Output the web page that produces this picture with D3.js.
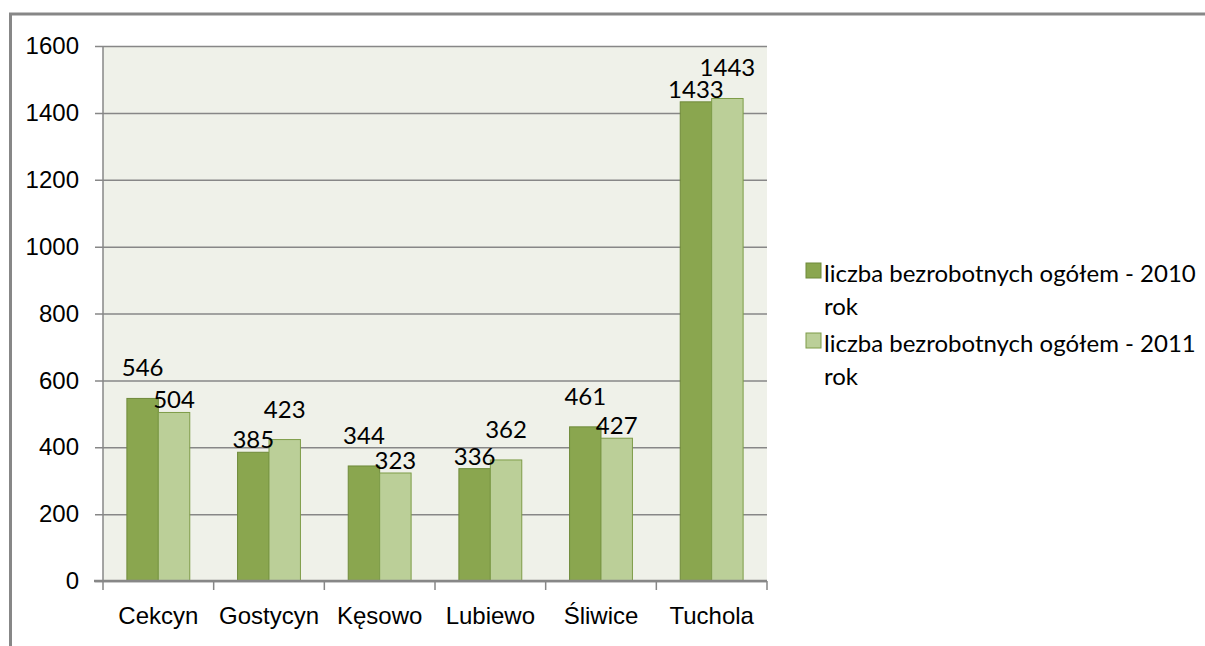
<!DOCTYPE html>
<html lang="pl">
  <head>
    <meta charset="utf-8">
    <title>Bezrobotni 2010-2011</title>
    <style>
body {
  margin: 0;
  background: #fff;
}
svg {
  font-family: Lato, "Liberation Sans", sans-serif;
  font-size: 24px;
}
.grid line {
  stroke: #878787;
  stroke-width: 1.5;
}
.frame {
  fill: none;
  stroke: #878787;
  stroke-width: 3;
}
    </style>
  </head>
  <body>
    <svg></svg>
    <script src="https://cdn.jsdelivr.net/npm/d3@7"></script>
    <script>

    let categories = ["Cekcyn", "Gostycyn", "Kęsowo", "Lubiewo", "Śliwice", "Tuchola"];
    let series = ["liczba bezrobotnych ogółem - 2010 rok", "liczba bezrobotnych ogółem - 2011 rok"];
    let values2010 = [546, 385, 344, 336, 461, 1433];
    let values2011 = [504, 423, 323, 362, 427, 1443];
    let yTicks = [0, 200, 400, 600, 800, 1000, 1200, 1400, 1600];

    let colors = ["#8aa64f", "#bbcf98"],
        strokes = ["#6f8a3a", "#7e9c48"];

    let width = 1205,
        height = 646,
        plotLeft = 103,
        plotRight = 767,
        plotTop = 46,
        plotBottom = 581;

    let svg = d3.select("svg")
        .attr("width", width)
        .attr("height", height);

    // outer chart frame (top and left edges visible)
    svg.append("path")
        .attr("class", "frame")
        .attr("d", "M10.5,646 V14 H1205");

    let x = d3.scaleBand()
        .domain(categories)
        .range([plotLeft, plotRight]);

    let x1 = d3.scaleBand()
        .domain(series)
        .range([0, x.bandwidth()])
        .paddingOuter(0.76);

    let y = d3.scaleLinear()
        .domain([0, 1600])
        .range([plotBottom, plotTop]);

    svg.append("rect")
        .attr("x", plotLeft)
        .attr("y", plotTop)
        .attr("width", plotRight - plotLeft)
        .attr("height", plotBottom - plotTop)
        .attr("fill", "#eff1e9");

    // gridlines start 8px left of the plot (tick stub) and run to its right edge
    let yAxis = d3.axisLeft(y)
        .tickValues(yTicks)
        .tickSize(-(plotRight - plotLeft) - 8)
        .tickPadding(16)
        .tickFormat(d3.format("d"));

    let gy = svg.append("g")
        .attr("class", "grid")
        .attr("transform", "translate(" + (plotLeft - 8) + ",0)")
        .call(yAxis);
    gy.select(".domain").remove();
    gy.selectAll("text")
        .attr("fill", "#000")
        .attr("font-size", 24);

    // vertical axis line
    svg.append("line")
        .attr("x1", plotLeft).attr("x2", plotLeft)
        .attr("y1", plotTop).attr("y2", plotBottom)
        .attr("stroke", "#878787")
        .attr("stroke-width", 1.5);

    let rows = categories.map((c, i) => ({cat: c, vals: [values2010[i], values2011[i]]}));

    let group = svg.selectAll(".cat")
        .data(rows)
      .enter().append("g")
        .attr("class", "cat")
        .attr("transform", d => "translate(" + x(d.cat) + ",0)");

    group.selectAll("rect")
        .data(d => d.vals.map((v, k) => ({v: v, k: k, hi: v === d3.max(d.vals)})))
      .enter().append("rect")
        .attr("x", d => x1(series[d.k]))
        .attr("y", d => y(d.v))
        .attr("width", x1.bandwidth())
        .attr("height", d => y(0) - y(d.v))
        .attr("fill", d => colors[d.k])
        .attr("stroke", d => strokes[d.k])
        .attr("stroke-width", 1);

    // the taller bar of each pair gets its label lifted one step higher
    group.selectAll("text")
        .data(d => d.vals.map((v, k) => ({v: v, k: k, hi: v === d3.max(d.vals)})))
      .enter().append("text")
        .attr("x", d => x1(series[d.k]) + x1.bandwidth() / 2)
        .attr("y", d => y(d.v) - (d.hi ? 22 : 4))
        .attr("text-anchor", "middle")
        .text(d => d.v);

    // x axis
    let xAxis = d3.axisBottom(x)
        .tickSize(0)
        .tickPadding(26);

    let gx = svg.append("g")
        .attr("transform", "translate(0," + plotBottom + ")")
        .call(xAxis);
    gx.select(".domain").remove();
    gx.selectAll("text").attr("fill", "#000").attr("font-size", 24);

    svg.append("line")
        .attr("x1", plotLeft - 9).attr("x2", plotRight)
        .attr("y1", plotBottom).attr("y2", plotBottom)
        .attr("stroke", "#878787")
        .attr("stroke-width", 2.5);

    svg.selectAll(".sep")
        .data(categories.concat([null]))
      .enter().append("line")
        .attr("class", "sep")
        .attr("x1", (d, i) => i < categories.length ? x(d) : plotRight)
        .attr("x2", (d, i) => i < categories.length ? x(d) : plotRight)
        .attr("y1", plotBottom)
        .attr("y2", plotBottom + 9)
        .attr("stroke", "#878787")
        .attr("stroke-width", 1.5);

    // legend
    let legend = svg.selectAll(".legend")
        .data(series)
      .enter().append("g")
        .attr("class", "legend")
        .attr("transform", (d, i) => "translate(806," + (263 + i * 70) + ")");

    legend.append("rect")
        .attr("width", 15)
        .attr("height", 15)
        .attr("fill", (d, i) => colors[i])
        .attr("stroke", (d, i) => strokes[i]);

    legend.each(function(d) {
      let cut = d.lastIndexOf(" ");
      let t = d3.select(this).append("text")
          .attr("x", 18)
          .attr("y", 19);
      t.append("tspan").attr("x", 18).text(d.slice(0, cut));
      t.append("tspan").attr("x", 18).attr("dy", 33).text(d.slice(cut + 1));
    });

    </script>
  </body>
</html>
